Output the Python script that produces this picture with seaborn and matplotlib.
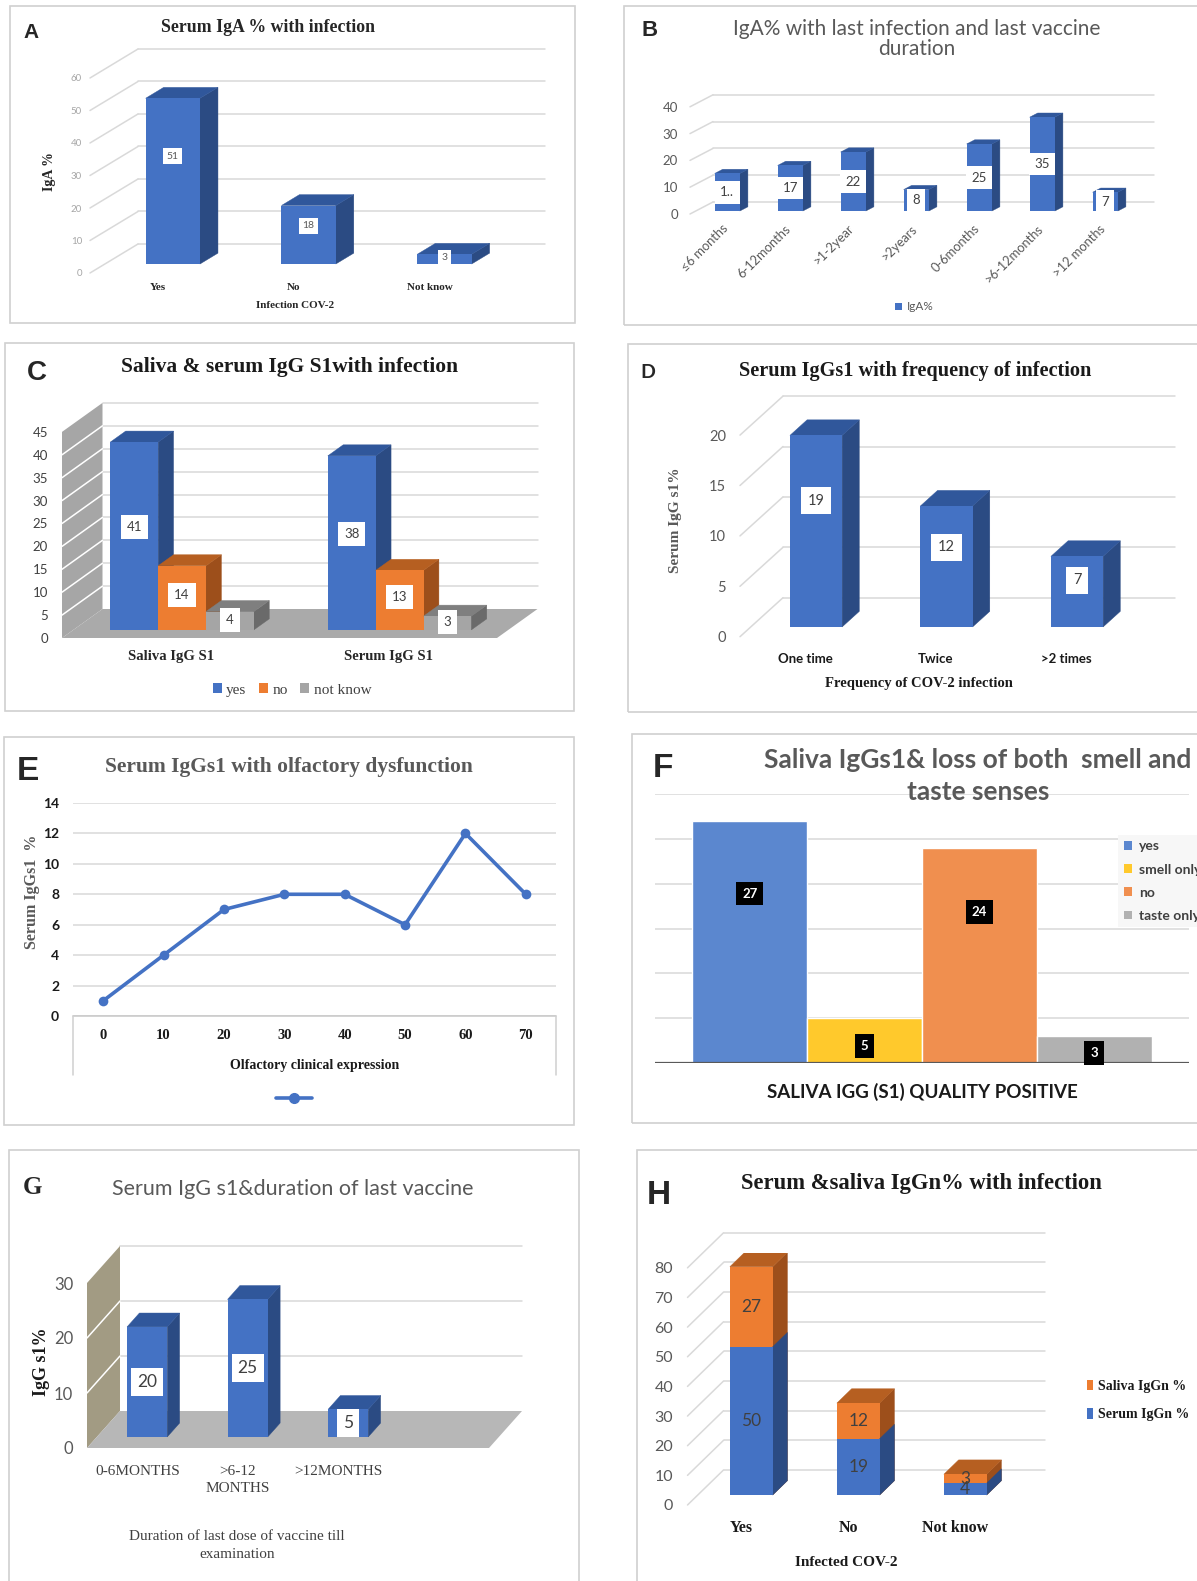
import matplotlib
matplotlib.use("Agg")
import matplotlib.pyplot as plt
import numpy as np
import pandas as pd
import seaborn as sns
from matplotlib.patches import Polygon, Patch, Rectangle
from matplotlib.lines import Line2D
from matplotlib.colors import to_hex

# ---------------- data ----------------
a_cats = ["Yes", "No", "Not know"]
a_vals = [51, 18, 3]

b_cats = ["≤6 months", "6-12months", ">1-2year", ">2years", "0-6months", ">6-12months", ">12 months"]
b_vals = [14, 17, 22, 8, 25, 35, 7]
b_labels = ["1..", "17", "22", "8", "25", "35", "7"]

c_groups = ["Saliva IgG S1", "Serum IgG S1"]
c_status = ["yes", "no", "not know"]
c_yes = [41, 38]
c_no = [14, 13]
c_notknow = [4, 3]

d_cats = ["One time", "Twice", ">2 times"]
d_vals = [19, 12, 7]

e_x = [0, 10, 20, 30, 40, 50, 60, 70]
e_vals = [1, 4, 7, 8, 8, 6, 12, 8]

f_group = "SALIVA IGG (S1) QUALITY POSITIVE"
f_cats = ["yes", "smell only", "no", "taste only"]
f_vals = [27, 5, 24, 3]

g_cats = ["0-6MONTHS", ">6-12\nMONTHS", ">12MONTHS"]
g_vals = [20, 25, 5]

h_cats = ["Yes", "No", "Not know"]
h_serum = [50, 19, 4]
h_saliva = [27, 12, 3]

# ---------------- style ----------------
sns.set_style("white")
SANS = ["Lato", "DejaVu Sans"]
SERIF = ["Liberation Serif", "DejaVu Serif"]
ARIAL = ["Liberation Sans", "DejaVu Sans"]
plt.rcParams["font.family"] = SANS

BLUE, ORANGE, GRAY = "#4472c4", "#ed7d31", "#a5a5a5"
SHADE = {
    BLUE: ("#30579b", "#2b4b83"),
    ORANGE: ("#b65f21", "#9d4f1b"),
    GRAY: ("#7f7f7f", "#6a6a6a"),
}
GRID = "#d9d9d9"

W, H = 1197, 1581
fig = plt.figure(figsize=(W / 100, H / 100), dpi=100)
fig.patch.set_facecolor("white")


def fx(x):
    return x / W


def fy(y):
    return 1 - y / H


def add_ax(l, t, r, b):
    ax = fig.add_axes([l / W, 1 - b / H, (r - l) / W, (b - t) / H])
    ax.set_facecolor("none")
    for s in ax.spines.values():
        s.set_visible(False)
    return ax


def ftext(x, y, s, **kw):
    kw.setdefault("ha", "center")
    kw.setdefault("va", "center")
    return fig.text(fx(x), fy(y), s, **kw)


def frame_box(l, t, r, b):
    fig.add_artist(Rectangle((fx(l), fy(b)), (r - l) / W, (b - t) / H,
                             transform=fig.transFigure, fill=False,
                             ec="#d0d0d0", lw=1.2))


def unit_px(ax):
    bb = ax.get_position()
    x0, x1 = ax.get_xlim()
    y0, y1 = ax.get_ylim()
    return bb.width * W / (x1 - x0), bb.height * H / (y1 - y0)


def depth_units(ax, depth):
    kx, ky = unit_px(ax)
    return depth[0] / kx, depth[1] / ky


def back_wall(ax, ticks, depth, color=GRID, diag=True):
    DX, DY = depth_units(ax, depth)
    x0, x1 = ax.get_xlim()
    for t in ticks:
        ax.plot([x0 + DX, x1 + DX], [t + DY, t + DY], color=color, lw=1.1,
                zorder=0.5, clip_on=False)
        if diag:
            ax.plot([x0, x0 + DX], [t, t + DY], color=color, lw=1.1,
                    zorder=0.5, clip_on=False)


def side_wall(ax, top, ticks, depth, color, line="white"):
    DX, DY = depth_units(ax, depth)
    x0, x1 = ax.get_xlim()
    ax.add_patch(Polygon([(x0, 0), (x0, top), (x0 + DX, top + DY), (x0 + DX, DY)],
                         closed=True, fc=color, ec="none", zorder=0.6, clip_on=False))
    for t in ticks:
        ax.plot([x0, x0 + DX], [t, t + DY], color=line, lw=1.1, zorder=0.7,
                clip_on=False)


def floor(ax, depth, color):
    DX, DY = depth_units(ax, depth)
    x0, x1 = ax.get_xlim()
    ax.add_patch(Polygon([(x0, 0), (x1, 0), (x1 + DX, DY), (x0 + DX, DY)],
                         closed=True, fc=color, ec="none", zorder=0.8, clip_on=False))


def extrude(ax, bars, depth, s0, s1, z0=2, top=True):
    """Give flat seaborn bars a box look: push them into the depth and add side/top faces."""
    DX, DY = depth_units(ax, depth)
    ox, oy = s0 * DX, s0 * DY
    ex, ey = (s1 - s0) * DX, (s1 - s0) * DY
    bars = sorted(bars, key=lambda p: (p.get_x(), p.get_y()))
    for i, p in enumerate(bars):
        x, y = p.get_x() + ox, p.get_y() + oy
        w, h = p.get_width(), p.get_height()
        p.set_xy((x, y))
        tc, sc = SHADE[to_hex(p.get_facecolor())]
        zi = z0 + 3 * i
        ax.add_patch(Polygon([(x + w, y), (x + w + ex, y + ey), (x + w + ex, y + h + ey), (x + w, y + h)],
                             closed=True, fc=sc, ec=sc, lw=0.3, zorder=zi))
        if top:
            ax.add_patch(Polygon([(x, y + h), (x + ex, y + h + ey), (x + w + ex, y + h + ey), (x + w, y + h)],
                                 closed=True, fc=tc, ec=tc, lw=0.3, zorder=zi + 1))
        p.set_zorder(zi + 2)
    return bars


def vlabel(ax, x, y, s, box="white", color="#404040", size=8, family=SANS,
           weight="normal", pad=0.35):
    bbox = None if box is None else dict(boxstyle=f"square,pad={pad}", fc=box, ec="none")
    ax.text(x, y, s, ha="center", va="center", fontsize=size, color=color,
            family=family, weight=weight, bbox=bbox, zorder=200, clip_on=False)


def new_bars(ax, n0):
    return [p for p in ax.patches[n0:] if isinstance(p, Rectangle)]


# ---------------- panel borders ----------------
frame_box(10, 6, 575, 323)
frame_box(624, 6, 1210, 325)
frame_box(5, 343, 574, 711)
frame_box(628, 344, 1210, 712)
frame_box(4, 737, 574, 1125)
frame_box(632, 734, 1210, 1123)
frame_box(9, 1150, 579, 1600)
frame_box(637, 1150, 1210, 1600)

# ---------------- A ----------------
depA = (48, 29)
axA = add_ax(90, 45.5, 497.5, 273)
n0 = len(axA.patches)
sns.barplot(x=a_cats, y=a_vals, color=BLUE, saturation=1, width=0.4,
            linewidth=0, errorbar=None, ax=axA)
axA.set_xlim(-0.5, 2.5)
axA.set_ylim(0, 70)
back_wall(axA, range(0, 61, 10), depA)
barsA = extrude(axA, new_bars(axA, n0), depA, 0.31, 0.685)
for p in barsA:
    v = p.get_height()
    vlabel(axA, p.get_x() + p.get_width() / 2, p.get_y() + 0.65 * v, f"{v:g}",
           color="#595959", size=7.5)
axA.set_yticks(range(0, 61, 10), labels=[str(t) for t in range(0, 61, 10)],
               fontsize=7, color="#a6a6a6", family=SANS)
axA.set_xticks(range(3), labels=a_cats, fontsize=8, family=SERIF,
               weight="bold", color="#262626")
axA.tick_params(axis="y", length=0, pad=5.8)
axA.tick_params(axis="x", length=0, pad=7.5)
axA.set_xlabel("")
axA.set_ylabel("")
ftext(31, 32, "A", fontsize=15, weight="bold", family=ARIAL)
ftext(268, 27, "Serum IgA % with infection", fontsize=12.8, weight="bold",
      family=SERIF, color="#262626")
ftext(50, 172, "IgA %", fontsize=10, weight="bold", family=SERIF, rotation=90,
      color="#262626")
ftext(295, 306, "Infection COV-2", fontsize=8, weight="bold", family=SERIF,
      color="#262626")

# ---------------- B ----------------
depB = (23, 12)
axB = add_ax(690, 93.4, 1131, 214)
n0 = len(axB.patches)
sns.barplot(x=b_cats, y=b_vals, color=BLUE, saturation=1, width=0.4,
            linewidth=0, errorbar=None, ax=axB)
axB.set_xlim(-0.5, 6.5)
axB.set_ylim(0, 45)
back_wall(axB, range(0, 41, 10), depB)
barsB = extrude(axB, new_bars(axB, n0), depB, 0.25, 0.6)
for p, lab in zip(barsB, b_labels):
    v = p.get_height()
    vlabel(axB, p.get_x() + p.get_width() / 2, p.get_y() + 0.5 * v, lab,
           color="#404040", size=9.5, pad=0.4)
axB.set_yticks(range(0, 41, 10), labels=[str(t) for t in range(0, 41, 10)],
               fontsize=9.5, color="#595959", family=SANS)
axB.set_xticks(range(7), labels=b_cats, fontsize=9.3, family=SANS,
               color="#595959", rotation=45, ha="right", rotation_mode="anchor")
axB.tick_params(axis="y", length=0, pad=8.6)
axB.tick_params(axis="x", length=0, pad=6)
axB.set_xlabel("")
axB.set_ylabel("")
ftext(650, 30, "B", fontsize=16, weight="bold", family=ARIAL)
ftext(917, 39, "IgA% with last infection and last vaccine\nduration",
      fontsize=15, color="#595959", family=SANS, linespacing=1.05)
axB.legend(handles=[Patch(fc=BLUE, ec="none")], labels=["IgA%"],
           loc="center", bbox_to_anchor=(fx(914), fy(307)),
           bbox_transform=fig.transFigure, frameon=False, fontsize=8.5,
           labelcolor="#595959", handlelength=0.6, handleheight=0.6,
           handletextpad=0.4)

# ---------------- C ----------------
depC = (40.5, 29)
axC = add_ax(62, 409, 497, 638)
c_df = pd.DataFrame({
    "group": c_groups * 3,
    "status": [s for s in c_status for _ in c_groups],
    "value": c_yes + c_no + c_notknow,
})
n0 = len(axC.patches)
sns.barplot(data=c_df, x="group", y="value", hue="status", hue_order=c_status,
            palette=[BLUE, ORANGE, GRAY], saturation=1, width=0.66,
            linewidth=0, errorbar=None, legend=False, ax=axC)
axC.set_xlim(-0.5, 1.5)
axC.set_ylim(0, 50)
back_wall(axC, range(5, 46, 5), depC, diag=False)
side_wall(axC, 45, range(5, 41, 5), depC, "#a6a6a6")
floor(axC, depC, "#aaaaaa")
barsC = extrude(axC, new_bars(axC, n0), depC, 0.28, 0.66)
for p in barsC:
    v = p.get_height()
    vlabel(axC, p.get_x() + p.get_width() / 2, p.get_y() + 0.55 * v, f"{v:g}",
           color="#404040", size=9.5, pad=0.45)
axC.set_yticks(range(0, 46, 5), labels=[str(t) for t in range(0, 46, 5)],
               fontsize=9.5, color="#404040", family=SANS)
axC.set_xticks(range(2), labels=c_groups, fontsize=10.5, family=SERIF,
               weight="bold", color="#262626")
axC.tick_params(axis="y", length=0, pad=10)
axC.tick_params(axis="x", length=0, pad=8.6)
axC.set_xlabel("")
axC.set_ylabel("")
ftext(37, 373, "C", fontsize=20, weight="bold", family=ARIAL)
ftext(290, 367, "Saliva & serum IgG S1with infection", fontsize=15.5,
      weight="bold", family=SERIF, color="#1a1a1a")
axC.legend(handles=[Patch(fc=c, ec="none") for c in (BLUE, ORANGE, GRAY)],
           labels=c_status, loc="center", bbox_to_anchor=(fx(292), fy(690)),
           bbox_transform=fig.transFigure, ncol=3, frameon=False,
           prop=dict(family=SERIF, size=11), labelcolor="#404040",
           handlelength=0.6, handleheight=0.6, handletextpad=0.3,
           columnspacing=0.8)

# ---------------- D ----------------
depD = (43, 39)
axD = add_ax(740, 394.8, 1131.5, 636.7)
n0 = len(axD.patches)
sns.barplot(x=d_cats, y=d_vals, color=BLUE, saturation=1, width=0.4,
            linewidth=0, errorbar=None, ax=axD)
axD.set_xlim(-0.5, 2.5)
axD.set_ylim(0, 24)
back_wall(axD, range(0, 21, 5), depD)
barsD = extrude(axD, new_bars(axD, n0), depD, 0.25, 0.65)
for p in barsD:
    v = p.get_height()
    vlabel(axD, p.get_x() + p.get_width() / 2, p.get_y() + 0.66 * v, f"{v:g}",
           color="#404040", size=10.5, pad=0.45)
axD.set_yticks(range(0, 21, 5), labels=[str(t) for t in range(0, 21, 5)],
               fontsize=10.5, color="#595959", family=SANS)
axD.set_xticks(range(3), labels=d_cats, fontsize=9.5, family=SANS,
               weight="bold", color="#1a1a1a")
axD.tick_params(axis="y", length=0, pad=10)
axD.tick_params(axis="x", length=0, pad=12)
axD.set_xlabel("")
axD.set_ylabel("")
ftext(648, 373, "D", fontsize=14, weight="bold", family=SANS)
ftext(915, 371, "Serum IgGs1 with frequency of infection", fontsize=14.6,
      weight="bold", family=SERIF, color="#1a1a1a")
ftext(919, 683, "Frequency of COV-2 infection", fontsize=10.5, weight="bold",
      family=SERIF, color="#1a1a1a")
ftext(676, 520, "Serum IgG s1%", fontsize=11, weight="bold", family=SERIF,
      color="#595959", rotation=90)

# ---------------- E ----------------
axE = add_ax(73, 803, 556, 1016)
e_df = pd.DataFrame({"expression": e_x, "igg": e_vals})
sns.lineplot(data=e_df, x="expression", y="igg", color=BLUE, lw=2.6,
             marker="o", markersize=7, markeredgewidth=0, ax=axE, zorder=5)
axE.set_xlim(-5, 75)
axE.set_ylim(0, 14)
axE.set_yticks(range(0, 15, 2), labels=[str(t) for t in range(0, 15, 2)],
               fontsize=10, weight="bold", color="#1a1a1a", family=SANS)
axE.set_xticks(e_x, labels=[str(t) for t in e_x], fontsize=10.5,
               weight="bold", color="#1a1a1a", family=SERIF)
axE.grid(axis="y", color=GRID, lw=1.1)
axE.set_axisbelow(True)
axE.tick_params(axis="y", length=0, pad=10)
axE.tick_params(axis="x", length=0, pad=9.2)
axE.set_xlabel("")
axE.set_ylabel("")
fig.add_artist(Line2D([fx(73), fx(556)], [fy(1016), fy(1016)], color="#c8c8c8", lw=1.1))
for xx in (73, 556):
    fig.add_artist(Line2D([fx(xx), fx(xx)], [fy(1016), fy(1075)], color="#d0d0d0", lw=1.1))
ftext(28, 772, "E", fontsize=24, weight="bold", family=ARIAL)
ftext(289, 767, "Serum IgGs1 with olfactory dysfunction", fontsize=15.5,
      weight="bold", family=SERIF, color="#595959")
ftext(314.5, 1065, "Olfactory clinical expression", fontsize=10,
      weight="bold", family=SERIF, color="#1a1a1a")
ftext(31.5, 892, "Serum IgGs1  %", fontsize=11.5, weight="bold", family=SERIF,
      color="#595959", rotation=90)
axE.legend(handles=[Line2D([], [], color=BLUE, lw=2.6, marker="o", markersize=7)],
           labels=[""], loc="center", bbox_to_anchor=(fx(294), fy(1099)),
           bbox_transform=fig.transFigure, frameon=False, handlelength=2.6,
           handletextpad=0)

# ---------------- F ----------------
f_colors = ["#5b87cf", "#ffc92c", "#f08f4f", "#b1b1b1"]
axF = add_ax(655, 794, 1189, 1063)
f_df = pd.DataFrame({"group": [f_group] * len(f_cats), "sense": f_cats, "value": f_vals})
sns.barplot(data=f_df, x="group", y="value", hue="sense", hue_order=f_cats,
            palette=f_colors, saturation=1, width=0.86, linewidth=1,
            edgecolor="white", errorbar=None, legend=False, ax=axF, zorder=3)
axF.set_xlim(-0.5, 0.5)
axF.set_ylim(0, 30)
axF.set_yticks(range(5, 31, 5), labels=[""] * 6)
axF.grid(axis="y", color=GRID, lw=1.1)
axF.set_axisbelow(True)
axF.axhline(0, color="#595959", lw=1.6, zorder=6)
for p in [q for q in axF.patches if isinstance(q, Rectangle)]:
    v = p.get_height()
    yy = 0.7 * v if v > 10 else 0.38 * v
    vlabel(axF, p.get_x() + p.get_width() / 2, yy, f"{v:g}", box="black",
           color="white", size=9.5, weight="bold", pad=0.45)
axF.set_xticks([0], labels=[f_group], fontsize=13.5, weight="bold",
               color="#1a1a1a", family=SANS)
axF.tick_params(axis="both", length=0)
axF.tick_params(axis="x", pad=14)
axF.set_xlabel("")
axF.set_ylabel("")
ftext(663, 768, "F", fontsize=24, weight="bold", family=ARIAL)
ftext(978, 776, "Saliva IgGs1& loss of both  smell and\ntaste senses",
      fontsize=19, weight="bold", family=SANS, color="#595959",
      linespacing=1.45)
leg = axF.legend(handles=[Patch(fc=c, ec="none") for c in f_colors],
                 labels=f_cats, loc="upper left",
                 bbox_to_anchor=(fx(1111), fy(828)), bbox_transform=fig.transFigure,
                 frameon=True, fancybox=False, facecolor="#f7f7f7",
                 edgecolor="none", framealpha=1,
                 prop=dict(family=SANS, size=10, weight="bold"),
                 labelcolor="#404040", handlelength=0.6, handleheight=0.6,
                 handletextpad=0.5, labelspacing=0.8, borderpad=0.4)
leg.set_zorder(50)

# ---------------- G ----------------
depG = (33, 37)
axG = add_ax(87, 1272, 489, 1448)
n0 = len(axG.patches)
sns.barplot(x=g_cats, y=g_vals, color=BLUE, saturation=1, width=0.4,
            linewidth=0, errorbar=None, ax=axG)
axG.set_xlim(-0.5, 3.5)
axG.set_ylim(0, 32)
back_wall(axG, range(10, 31, 10), depG, diag=False)
side_wall(axG, 30, range(10, 21, 10), depG, "#a29b83")
floor(axG, depG, "#b7b7b7")
barsG = extrude(axG, new_bars(axG, n0), depG, 0.3, 0.675)
for p in barsG:
    v = p.get_height()
    vlabel(axG, p.get_x() + p.get_width() / 2, p.get_y() + 0.5 * v, f"{v:g}",
           color="#404040", size=12.5, pad=0.35)
axG.set_yticks(range(0, 31, 10), labels=[str(t) for t in range(0, 31, 10)],
               fontsize=12, color="#595959", family=SANS)
axG.set_xticks(range(3), labels=g_cats, fontsize=11, family=SERIF,
               color="#404040", linespacing=1.4)
axG.tick_params(axis="y", length=0, pad=10)
axG.tick_params(axis="x", length=0, pad=12)
axG.set_xlabel("")
axG.set_ylabel("")
ftext(32, 1188, "G", fontsize=18, weight="bold", family=SERIF)
ftext(293, 1189, "Serum IgG s1&duration of last vaccine", fontsize=15.5,
      family=SANS, color="#595959")
ftext(237, 1546, "Duration of last dose of vaccine till\nexamination",
      fontsize=11, family=SERIF, color="#404040", linespacing=1.5)
ftext(41, 1362, "IgG s1%", fontsize=13, weight="bold", family=SERIF,
      rotation=90, color="#1a1a1a")

# ---------------- H ----------------
depH = (36, 35)
axH = add_ax(687.5, 1253, 1008.5, 1505)
h_total = [s + v for s, v in zip(h_serum, h_saliva)]
n0 = len(axH.patches)
sns.barplot(x=h_cats, y=h_total, color=ORANGE, saturation=1, width=0.4,
            linewidth=0, errorbar=None, ax=axH)
axH.set_xlim(-0.5, 2.5)
axH.set_ylim(0, 85)
tot_bars = new_bars(axH, n0)
n1 = len(axH.patches)
sns.barplot(x=h_cats, y=h_serum, color=BLUE, saturation=1, width=0.4,
            linewidth=0, errorbar=None, ax=axH)
ser_bars = new_bars(axH, n1)
axH.set_xlim(-0.5, 2.5)
axH.set_ylim(0, 85)
back_wall(axH, range(0, 81, 10), depH)
tot_bars = extrude(axH, tot_bars, depH, 0.285, 0.695, z0=2)
ser_bars = extrude(axH, ser_bars, depH, 0.285, 0.695, z0=30, top=False)
for pt, ps, sal in zip(tot_bars, ser_bars, h_saliva):
    xc = ps.get_x() + ps.get_width() / 2
    s = ps.get_height()
    vlabel(axH, xc, ps.get_y() + s / 2, f"{s:g}", box=None, size=12.5)
    vlabel(axH, xc, ps.get_y() + s + sal / 2, f"{sal:g}", box=None, size=12.5)
axH.set_yticks(range(0, 81, 10), labels=[str(t) for t in range(0, 81, 10)],
               fontsize=11.5, color="#595959", family=SANS)
axH.set_xticks(range(3), labels=h_cats, fontsize=11.5, family=SERIF,
               weight="bold", color="#1a1a1a")
axH.tick_params(axis="y", length=0, pad=10.4)
axH.tick_params(axis="x", length=0, pad=11)
axH.set_xlabel("")
axH.set_ylabel("")
ftext(659, 1195, "H", fontsize=24, weight="bold", family=ARIAL)
ftext(921, 1184, "Serum &saliva IgGn% with infection", fontsize=16.3,
      weight="bold", family=SERIF, color="#1a1a1a")
ftext(846, 1562, "Infected COV-2", fontsize=11, weight="bold", family=SERIF,
      color="#1a1a1a")
axH.legend(handles=[Patch(fc=ORANGE, ec="none"), Patch(fc=BLUE, ec="none")],
           labels=["Saliva IgGn %", "Serum IgGn %"], loc="upper left",
           bbox_to_anchor=(fx(1074), fy(1367)), bbox_transform=fig.transFigure,
           frameon=False, prop=dict(family=SERIF, size=10, weight="bold"),
           labelcolor="#1a1a1a", handlelength=0.5, handleheight=0.8,
           handletextpad=0.3, labelspacing=1.1)

fig.savefig("out.png", dpi=100, facecolor="white")
